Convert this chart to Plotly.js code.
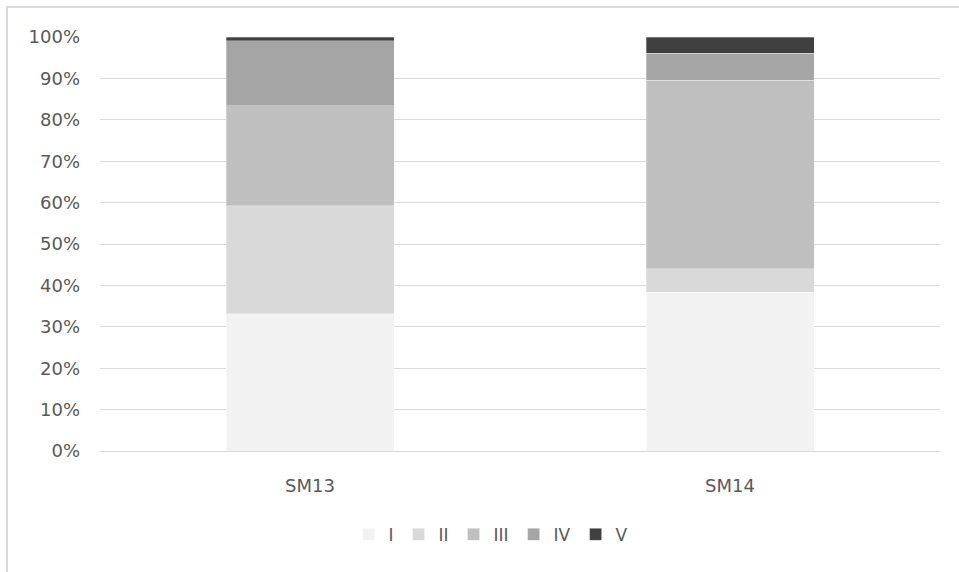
<!DOCTYPE html>
<html>
<head>
<meta charset="utf-8">
<script src="https://cdn.plot.ly/plotly-3.0.1.min.js"></script>
<style>
  html, body { margin: 0; padding: 0; background: #fff; overflow: hidden; }
  #wrap { position: relative; width: 959px; height: 572px; overflow: hidden; }
  #chart { width: 959px; height: 572px; }
  #frame {
    position: absolute; left: 6px; top: 6px; width: 990px; height: 600px;
    border: 2px solid #d9d9d9; pointer-events: none; box-sizing: border-box;
  }
</style>
</head>
<body>
<div id="wrap">
  <div id="chart"></div>
  <div id="frame"></div>
</div>
<script>
// Samples on the category axis
const samples = ['SM13', 'SM14'];

// Share of each class (percent) per sample
const classI   = [33.1, 38.4];
const classII  = [26.1, 5.6];
const classIII = [24.2, 45.6];
const classIV  = [15.7, 6.5];
const classV   = [0.9, 3.9];

const classNames  = ['I', 'II', 'III', 'IV', 'V'];
const classColors = ['#f2f2f2', '#d9d9d9', '#bfbfbf', '#a5a5a5', '#404040'];
const classValues = [classI, classII, classIII, classIV, classV];

// y-axis tick labels
const yTickVals = [0, 10, 20, 30, 40, 50, 60, 70, 80, 90, 100];
const yTickText = yTickVals.map(v => v + '%');

const traces = classNames.map((name, i) => ({
  type: 'bar',
  name: name,
  x: samples,
  y: classValues[i],
  marker: { color: classColors[i], line: { color: 'rgba(255,255,255,0.6)', width: 0.5 } },
  hoverinfo: 'x+y+name'
}));

const font = { family: 'DejaVu Sans, Noto Sans, sans-serif', size: 18, color: '#595959' };

const layout = {
  width: 959,
  height: 572,
  margin: { l: 100, r: 19, t: 37, b: 121 },
  barmode: 'stack',
  bargap: 0.6,
  paper_bgcolor: '#ffffff',
  plot_bgcolor: '#ffffff',
  font: font,
  showlegend: true,
  legend: {
    orientation: 'h',
    xref: 'container',
    yref: 'container',
    x: 0.512,
    xanchor: 'center',
    y: 0.065,
    yanchor: 'middle',
    font: { family: font.family, size: 17, color: '#595959' },
    itemwidth: 30,
    traceorder: 'normal'
  },
  xaxis: {
    type: 'category',
    showgrid: false,
    showline: true,
    linecolor: '#d9d9d9',
    linewidth: 1,
    ticks: '',
    ticklabelstandoff: 18,
    tickfont: font,
    fixedrange: true
  },
  yaxis: {
    range: [0, 100],
    tickvals: yTickVals,
    ticktext: yTickText,
    showgrid: true,
    gridcolor: '#d9d9d9',
    gridwidth: 1,
    zeroline: false,
    showline: false,
    ticks: '',
    ticklabelstandoff: 19,
    tickfont: font,
    fixedrange: true
  }
};

Plotly.newPlot('chart', traces, layout, { displayModeBar: false, staticPlot: true });
</script>
</body>
</html>
